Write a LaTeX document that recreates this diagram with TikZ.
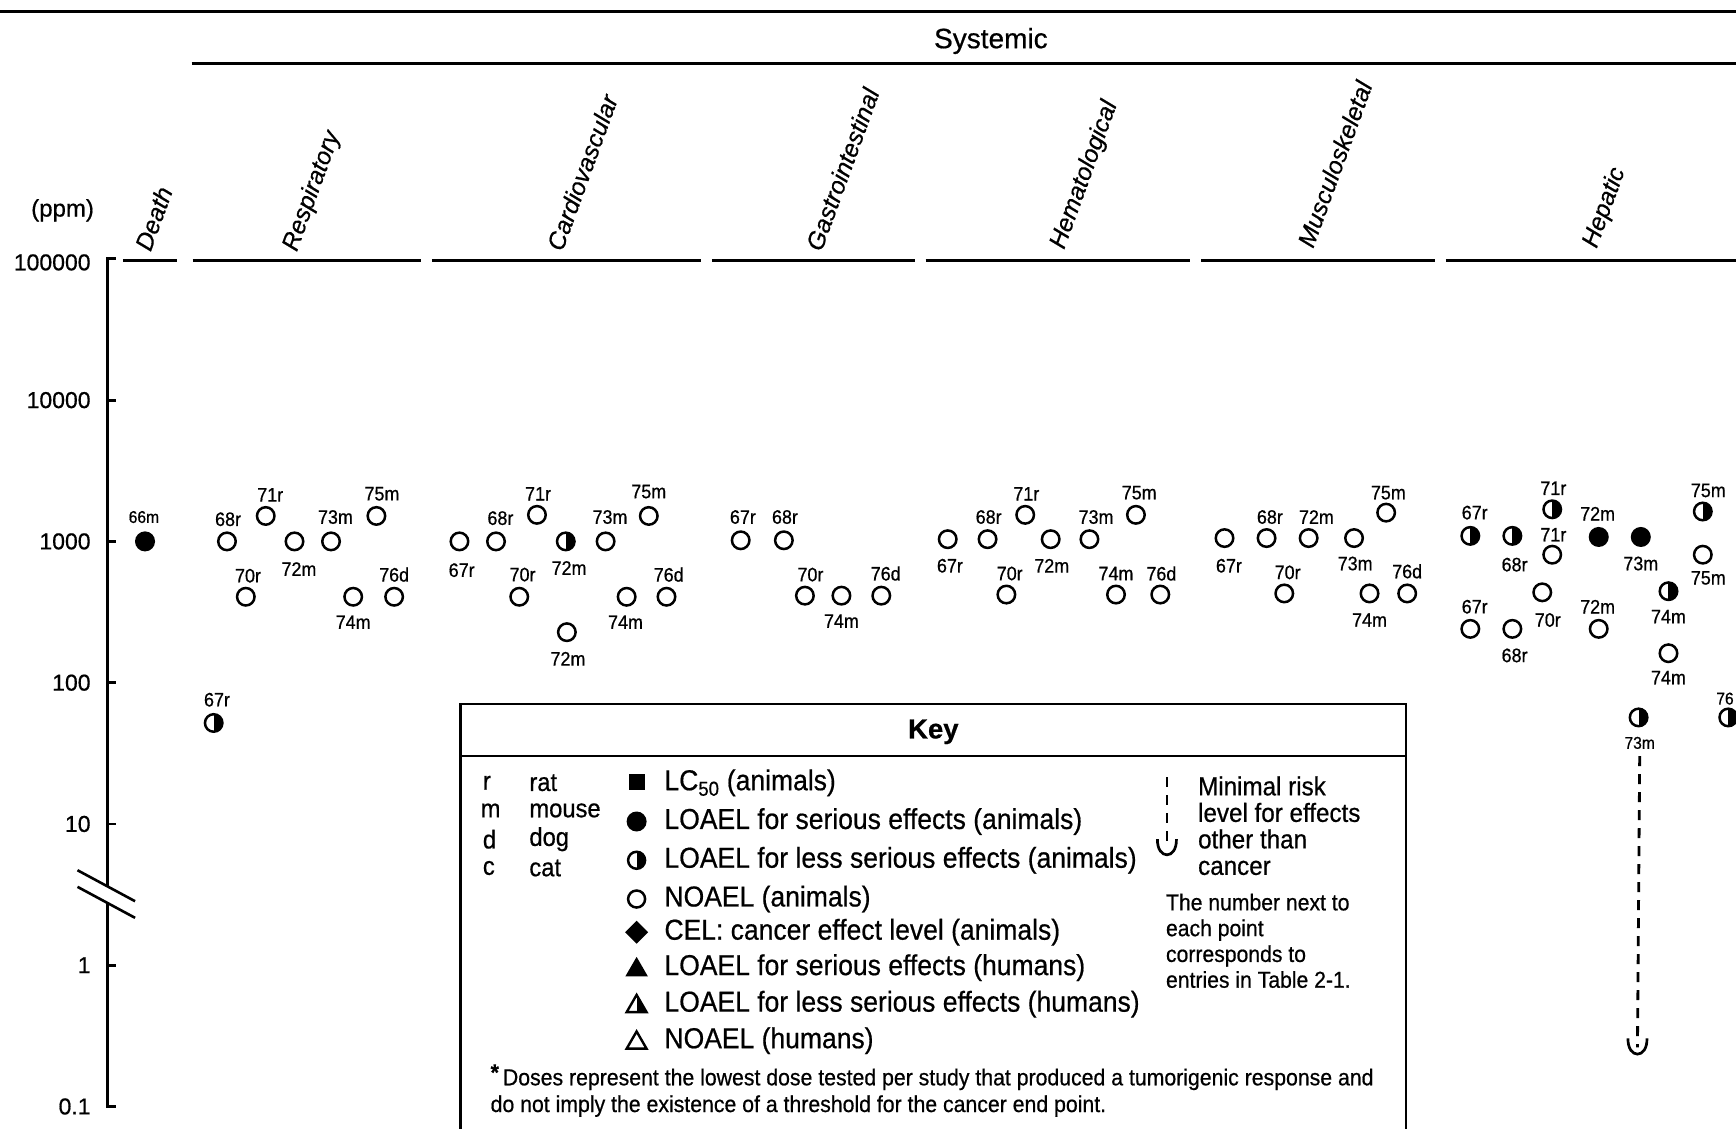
\documentclass[tikz,border=0pt]{standalone}
\usepackage{fontspec}
\setmainfont{Liberation Sans}[FakeBold=0.6]
\newfontfamily\narrowfont[FakeStretch=0.92,FakeBold=0.6]{Liberation Sans}
\usetikzlibrary{shapes.geometric}
\newcommand\datapt[7]{\node[#2] (#1) at (#3,#4) {}; \node[lab] (#1l) at (#5,#6) {#7};}
\begin{document}
\begin{tikzpicture}[x=1.10714pt,y=-1.10714pt,
  datpt/.style={circle, draw=black, line width=2.5pt, minimum size=17.5pt, inner sep=0pt},
  noael/.style={datpt},
  serious/.style={datpt, fill=black},
  lesser/.style={datpt, path picture={\fill[black] (path picture bounding box.north) rectangle (path picture bounding box.south east);}},
  lab/.style={inner sep=0pt, font=\narrowfont\fontsize{19.5}{19.5}\selectfont},
  smalllab/.style={inner sep=0pt, font=\narrowfont\fontsize{17}{17}\selectfont},
  rule/.style={line width=3pt},
  catline/.style={line width=2.8pt},
  cat/.style={rotate=70, anchor=base west, inner sep=0pt, font=\itshape\fontsize{24.5}{24.5}\selectfont},
  axlab/.style={anchor=east, inner sep=0pt, font=\fontsize{23}{23}\selectfont},
  axisline/.style={line width=2.8pt},
  keytxt/.style={anchor=west, inner sep=0pt, font=\narrowfont\fontsize{28.8}{28.8}\selectfont},
  sptxt/.style={anchor=west, inner sep=0pt, font=\narrowfont\fontsize{25.8}{25.8}\selectfont},
  ksym/.style={inner sep=0pt, line width=2.4pt},
  mrldash/.style={line width=2.8pt, dash pattern=on 10pt off 8pt},
  mrlcup/.style={line width=2.7pt}
]
\useasboundingbox (0,0) rectangle (1568,1019);
\fill[white] (0,0) rectangle (1568,1019);

% header rules
\draw[rule] (0,10) -- (1568,10);
\draw[rule] (173,57) -- (1568,57);
\node[inner sep=0pt, font=\fontsize{28}{28}\selectfont] (systemic) at (895,37) {Systemic};

% category lines
\draw[catline] (111,235) -- (160,235);
\draw[catline] (174,235) -- (380,235);
\draw[catline] (390,235) -- (633,235);
\draw[catline] (643,235) -- (826,235);
\draw[catline] (836,235) -- (1075,235);
\draw[catline] (1085,235) -- (1296,235);
\draw[catline] (1306,235) -- (1568,235);

% category labels
\node[cat] (cdeath) at (136,228) {Death};
\node[cat] (cresp) at (268,228) {Respiratory};
\node[cat] (ccardio) at (508,228) {Cardiovascular};
\node[cat] (cgastro) at (742,228) {Gastrointestinal};
\node[cat] (chema) at (961,226) {Hematological};
\node[cat] (cmusc) at (1186,225) {Musculoskeletal};
\node[cat] (chep) at (1442,225) {Hepatic};

% axis
\node[axlab, font=\fontsize{24}{24}\selectfont] (ppm) at (85,190) {(ppm)};
\draw[axisline] (97,233.8) -- (97,800.5);
\draw[axisline] (97,815.5) -- (97,999.4);
\foreach \yy in {233.8,361.4,489,616.6,744.2,871.8,999.4} \draw[axisline] (96,\yy) -- (105,\yy);
\node[axlab] (t5) at (82,237) {100000};
\node[axlab] (t4) at (82,361.4) {10000};
\node[axlab] (t3) at (82,489) {1000};
\node[axlab] (t2) at (82,616.6) {100};
\node[axlab] (t1) at (82,744.2) {10};
\node[axlab] (t0) at (82,871.8) {1};
\node[axlab] (tm) at (82,999.4) {0.1};
\draw[line width=2.6pt] (70,786) -- (122,814);
\draw[line width=2.6pt] (70,801) -- (122,829);

% Death
\node[serious] (dth66) at (131,489) {};
\node[smalllab] (dth66l) at (130,467) {66m};
\datapt{dth67}{lesser}{193}{653}{196}{632}{67r}

% Respiratory
\datapt{rsp68}{noael}{205}{489}{206}{469}{68r}
\datapt{rsp71}{noael}{240}{466}{244}{447}{71r}
\datapt{rsp72}{noael}{266}{489}{270}{514}{72m}
\datapt{rsp73}{noael}{299}{489}{303}{467}{73m}
\datapt{rsp75}{noael}{340}{466}{345}{446}{75m}
\datapt{rsp70}{noael}{222}{539}{224}{520}{70r}
\datapt{rsp74}{noael}{319}{539}{319}{562}{74m}
\datapt{rsp76}{noael}{356}{539}{356}{519}{76d}

% Cardiovascular
\datapt{cv67}{noael}{415}{489}{417}{515}{67r}
\datapt{cv68}{noael}{448}{489}{452}{468}{68r}
\datapt{cv71}{noael}{485}{465}{486}{446}{71r}
\datapt{cv72a}{lesser}{511}{489}{514}{513}{72m}
\datapt{cv73}{noael}{547}{489}{551}{467}{73m}
\datapt{cv75}{noael}{586}{466}{586}{444}{75m}
\datapt{cv70}{noael}{469}{539}{472}{519}{70r}
\datapt{cv74}{noael}{566}{539}{565}{562}{74m}
\datapt{cv76}{noael}{602}{539}{604}{519}{76d}
\datapt{cv72b}{noael}{512}{571}{513}{595}{72m}

% Gastrointestinal
\datapt{gi67}{noael}{669}{488}{671}{467}{67r}
\datapt{gi68}{noael}{708}{488}{709}{467}{68r}
\datapt{gi70}{noael}{727}{538}{732}{519}{70r}
\datapt{gi74}{noael}{760}{538}{760}{561}{74m}
\datapt{gi76}{noael}{796}{538}{800}{518}{76d}

% Hematological
\datapt{hm67}{noael}{856}{487}{858}{511}{67r}
\datapt{hm68}{noael}{892}{487}{893}{467}{68r}
\datapt{hm71}{noael}{926}{465}{927}{446}{71r}
\datapt{hm72}{noael}{949}{487}{950}{511}{72m}
\datapt{hm73}{noael}{984}{487}{990}{467}{73m}
\datapt{hm75}{noael}{1026}{465}{1029}{445}{75m}
\datapt{hm70}{noael}{909}{537}{912}{518}{70r}
\datapt{hm74}{noael}{1008}{537}{1008}{518}{74m}
\datapt{hm76}{noael}{1048}{537}{1049}{518}{76d}

% Musculoskeletal
\datapt{ms67}{noael}{1106}{486}{1110}{511}{67r}
\datapt{ms68}{noael}{1144}{486}{1147}{467}{68r}
\datapt{ms72}{noael}{1182}{486}{1189}{467}{72m}
\datapt{ms73}{noael}{1223}{486}{1224}{509}{73m}
\datapt{ms75}{noael}{1252}{463}{1254}{445}{75m}
\datapt{ms70}{noael}{1160}{536}{1163}{517}{70r}
\datapt{ms74}{noael}{1237}{536}{1237}{560}{74m}
\datapt{ms76}{noael}{1271}{536}{1271}{516}{76d}

% Hepatic
\datapt{hp67a}{lesser}{1328}{484}{1332}{463}{67r}
\datapt{hp68a}{lesser}{1366}{484}{1368}{510}{68r}
\datapt{hp71a}{lesser}{1402}{460}{1403}{441}{71r}
\datapt{hp71b}{noael}{1402}{501}{1403}{483}{71r}
\datapt{hp72a}{serious}{1444}{485}{1443}{464}{72m}
\datapt{hp73a}{serious}{1482}{485}{1482}{509}{73m}
\datapt{hp75a}{lesser}{1538}{462}{1543}{443}{75m}
\datapt{hp75b}{noael}{1538}{501}{1543}{522}{75m}
\datapt{hp70}{noael}{1393}{535}{1398}{560}{70r}
\datapt{hp74a}{lesser}{1507}{534}{1507}{557}{74m}
\datapt{hp67b}{noael}{1328}{568}{1332}{548}{67r}
\datapt{hp68b}{noael}{1366}{568}{1368}{592}{68r}
\datapt{hp72b}{noael}{1444}{568}{1443}{548}{72m}
\datapt{hp74b}{noael}{1507}{590}{1507}{612}{74m}
\node[lesser] (hp73b) at (1480,648) {};
\node[smalllab] (hp73bl) at (1481,671) {73m};
\node[lesser] (hp76) at (1561,648) {};
\node[smalllab, anchor=west] (hp76l) at (1550,631) {76};

% MRL in plot
\coordinate (mrlA) at (1479,946);
\draw[mrldash] ([yshift=-7pt]hp73bl.south) -- (mrlA);
\draw[mrlcup] ([xshift=-9.5pt,yshift=9pt]mrlA) .. controls ([xshift=-10pt,yshift=-12pt]mrlA) and ([xshift=10pt,yshift=-12pt]mrlA) .. ([xshift=9.5pt,yshift=9pt]mrlA);

% Key box
\draw[line width=2.6pt] (416,1030) -- (416,636) -- (1270,636) -- (1270,1030);
\draw[line width=2.6pt] (416,683) -- (1270,683);
\node[inner sep=0pt, font=\bfseries\fontsize{27.5}{27.5}\selectfont] (keyhead) at (843,661) {Key};

% species
\node[sptxt] (sr) at (436,707) {r};
\node[sptxt] (srt) at (478,707) {rat};
\node[sptxt] (sm) at (434,732) {m};
\node[sptxt] (smt) at (478,732) {mouse};
\node[sptxt] (sd) at (436,758) {d};
\node[sptxt] (sdt) at (478,758) {dog};
\node[sptxt] (sc) at (436,784) {c};
\node[sptxt] (sct) at (478,784) {cat};

% key symbols
\node[ksym, rectangle, fill=black, minimum size=16pt] (k1) at (575,706) {};
\node[ksym, circle, fill=black, minimum size=20pt] (k2) at (575,742) {};
\node[lesser, minimum size=17pt] (k3) at (575,777) {};
\node[noael, minimum size=17pt] (k4) at (575,812) {};
\node[ksym, diamond, fill=black, minimum size=24pt] (k5) at (575,842) {};
\node[ksym, regular polygon, regular polygon sides=3, fill=black, minimum size=26pt] (k6) at (575,876) {};
\node[ksym, regular polygon, regular polygon sides=3, draw, minimum size=23pt, path picture={\fill[black] (path picture bounding box.north) rectangle (path picture bounding box.south east);}] (k7) at (575,909) {};
\node[ksym, regular polygon, regular polygon sides=3, draw, minimum size=23pt] (k8) at (575,942) {};

\node[keytxt] (kt1) at (600,707) {LC\textsubscript{50} (animals)};
\node[keytxt] (kt2) at (600,742) {LOAEL for serious effects (animals)};
\node[keytxt] (kt3) at (600,777) {LOAEL for less serious effects (animals)};
\node[keytxt] (kt4) at (600,812) {NOAEL (animals)};
\node[keytxt] (kt5) at (600,842) {CEL: cancer effect level (animals)};
\node[keytxt] (kt6) at (600,874) {LOAEL for serious effects (humans)};
\node[keytxt] (kt7) at (600,907) {LOAEL for less serious effects (humans)};
\node[keytxt] (kt8) at (600,940) {NOAEL (humans)};

% key MRL
\coordinate (kmrlT) at (1054,702);
\coordinate (kmrlB) at (1054,766);
\draw[mrldash] (kmrlT) -- (kmrlB);
\draw[mrlcup] ([xshift=-9.5pt,yshift=9pt]kmrlB) .. controls ([xshift=-10pt,yshift=-12pt]kmrlB) and ([xshift=10pt,yshift=-12pt]kmrlB) .. ([xshift=9.5pt,yshift=9pt]kmrlB);
\node[anchor=north west, inner sep=0pt, align=left, font=\narrowfont\fontsize{26.3}{26.5}\selectfont] (mrltxt) at (1082,701) {Minimal risk\\level for effects\\other than\\cancer};
\node[anchor=north west, inner sep=0pt, align=left, font=\narrowfont\fontsize{23}{25.8}\selectfont] (numtxt) at (1053,807) {The number next to\\each point\\corresponds to\\entries in Table 2-1.};

% footnote
\node[anchor=west, inner sep=0pt, font=\narrowfont\fontsize{23.1}{23.1}\selectfont] (fn1) at (443,973) {\raisebox{5pt}{\bfseries *}\hspace{4pt}Doses represent the lowest dose tested per study that produced a tumorigenic response and};
\node[anchor=west, inner sep=0pt, font=\narrowfont\fontsize{23.1}{23.1}\selectfont] (fn2) at (443,999) {do not imply the existence of a threshold for the cancer end point.};
\end{tikzpicture}
\end{document}
